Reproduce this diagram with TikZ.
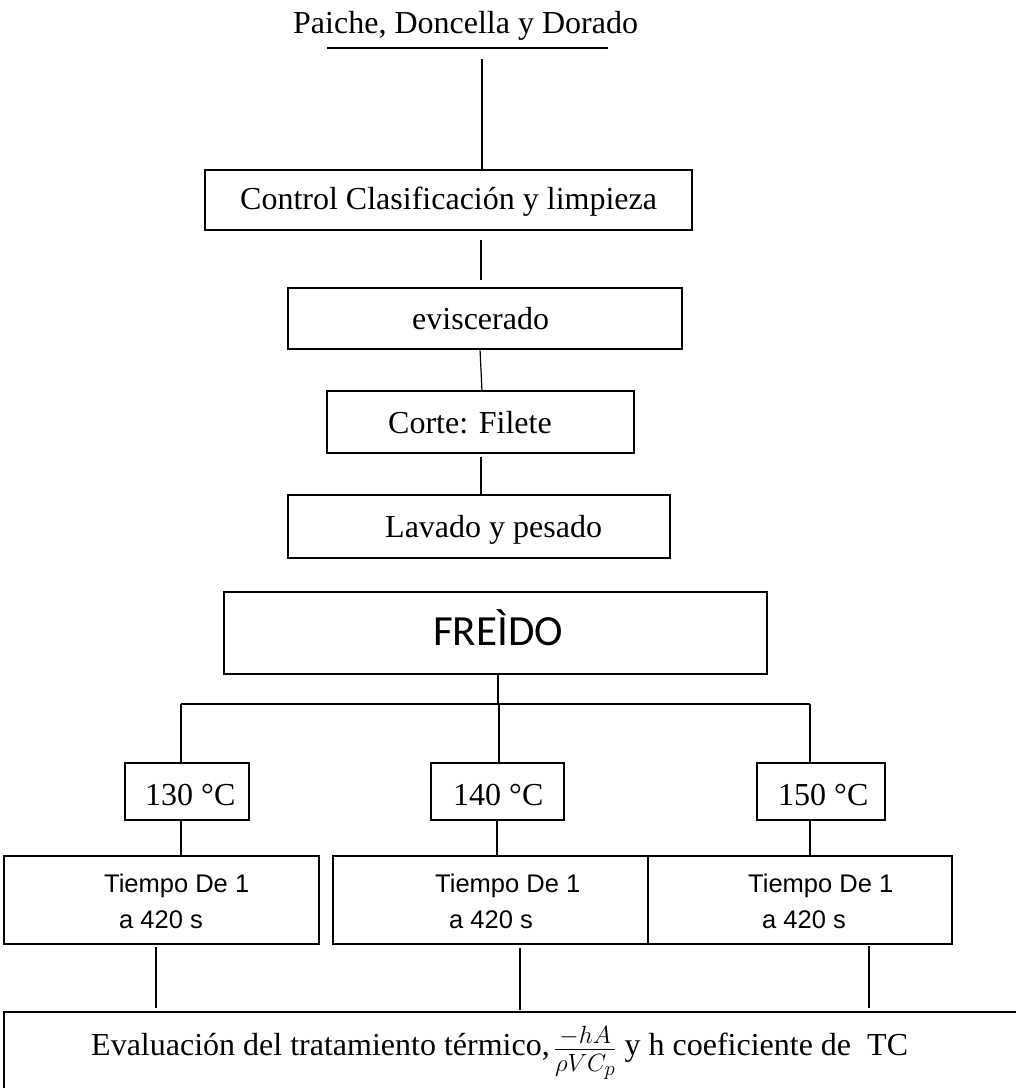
\documentclass[tikz,border=0pt]{standalone}
\usepackage{graphicx}
\usepackage{fontspec}
\setmainfont{Liberation Serif}
\newfontfamily\arialf{Liberation Sans}
\newfontfamily\calf{Carlito}
\begin{document}
\begin{tikzpicture}[x=1pt,y=-1pt,
  boxn/.style={draw, line width=1.5pt, inner sep=0pt, outer sep=0pt},
  conn/.style={line width=1.2pt},
  ser/.style={font=\fontsize{32}{37}\selectfont, inner sep=0pt, anchor=base west},
  ari/.style={font=\arialf\fontsize{25.5}{30}\selectfont, inner sep=0pt, anchor=base west}]
\useasboundingbox (0,0) rectangle (1016,1088);
\clip (0,0) rectangle (1016,1088);

% boxes
\node[boxn, minimum width=487pt, minimum height=60pt] (ctrl) at (448.5,200) {};
\node[boxn, minimum width=394pt, minimum height=61pt] (evis) at (485,318.5) {};
\node[boxn, minimum width=307pt, minimum height=62pt] (corte) at (480.5,422) {};
\node[boxn, minimum width=382pt, minimum height=63pt] (lav) at (479,526.5) {};
\node[boxn, line width=2.4pt, minimum width=543pt, minimum height=82pt] (fre) at (495.5,633) {};
\node[boxn, line width=1.8pt, minimum width=124pt, minimum height=57pt] (t130) at (187,791.5) {};
\node[boxn, line width=1.8pt, minimum width=133pt, minimum height=57pt] (t140) at (497.5,791.5) {};
\node[boxn, line width=1.8pt, minimum width=128pt, minimum height=57pt] (t150) at (821,791.5) {};
\node[boxn, minimum width=315pt, minimum height=88pt] (tl) at (161.5,900) {};
\node[boxn, minimum width=315pt, minimum height=88pt] (tm) at (490.5,900) {};
\node[boxn, minimum width=304pt, minimum height=88pt] (tr) at (800,900) {};
\node[boxn, line width=1.2pt, minimum width=1030pt, minimum height=120pt] (ev) at (519,1072) {};

% texts
\node[ser] (title) at (293,33) {Paiche, Doncella y Dorado};
\node[ser] (ctrlt) at (240,209) {Control Clasificación y limpieza};
\node[ser] (evist) at (412,329) {eviscerado};
\node[ser] (cortet) at (388,433) {Corte: Filete};
\node[ser] (lavt) at (385,537) {Lavado y pesado};
\node[font=\calf\fontsize{43}{50}\selectfont, inner sep=0pt, anchor=base west] (fret) at (433,645) {FREÌDO};
\node[ser] (t130t) at (145,805) {130 °C};
\node[ser] (t140t) at (453,805) {140 °C};
\node[ser] (t150t) at (778,805) {150 °C};
\node[ari] (tla) at (104,892) {Tiempo De 1};
\node[ari] (tlb) at (119,928) {a 420 s};
\node[ari] (tma) at (435,892) {Tiempo De 1};
\node[ari] (tmb) at (449,928) {a 420 s};
\node[ari] (tra) at (748,892) {Tiempo De 1};
\node[ari] (trb) at (762,928) {a 420 s};
\node[ser] (evt) at (91,1055) {Evaluación del tratamiento térmico,$\,\frac{\scalebox{1.2}{$\scriptstyle -hA$}\rule[-5pt]{0pt}{5pt}}{\rule{0pt}{22pt}\scalebox{1.2}{$\scriptstyle \rho V C_p$}}$ y h coeficiente de \ TC};

% title rule and connectors
\coordinate (ul1) at (327,48);
\coordinate (ul2) at (608,48);
\draw[conn] (ul1) -- (ul2);
\coordinate (top) at (482,59);
\draw[conn] (top) -- (top |- ctrl.north);
\draw[conn, shorten <=10pt, shorten >=8pt] (ctrl.south -| 481,0) -- (evis.north -| 481,0);
\draw[conn] (evis.south -| 480,0) -- (corte.north -| 482,0);
\draw[conn, shorten <=4pt] (corte.south -| 481,0) -- (lav.north -| 481,0);
\coordinate (bar) at (498,704);
\draw[conn] (fre.south -| bar) -- (bar);
\draw[conn] (bar -| 181,0) -- (bar -| 810,0);
\draw[conn] (bar -| 181,0) -- (t130.north -| 181,0);
\draw[conn] (bar -| 499,0) -- (t140.north -| 499,0);
\draw[conn] (bar -| 810,0) -- (t150.north -| 810,0);
\draw[conn] (t130.south -| 181,0) -- (tl.north -| 181,0);
\draw[conn] (t140.south -| 497,0) -- (tm.north -| 497,0);
\draw[conn] (t150.south -| 810,0) -- (tr.north -| 810,0);
\draw[conn, shorten <=3pt, shorten >=4pt] (tl.south -| 156,0) -- (ev.north -| 156,0);
\draw[conn, shorten <=4pt, shorten >=2pt] (tm.south -| 520,0) -- (ev.north -| 520,0);
\draw[conn, shorten <=2pt, shorten >=4pt] (tr.south -| 869,0) -- (ev.north -| 869,0);
\end{tikzpicture}
\end{document}
